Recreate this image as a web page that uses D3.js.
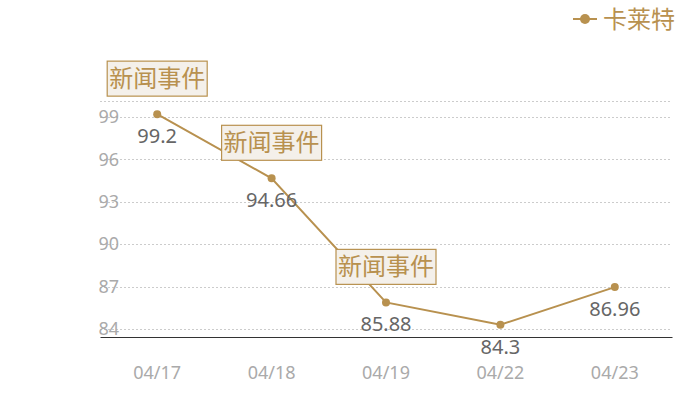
<!DOCTYPE html>
<html>
<head>
<meta charset="utf-8">
<script src="https://cdn.jsdelivr.net/npm/d3@7"></script>
<style>
  body { margin: 0; background: #fff; }
  text { font-family: "Noto Sans CJK SC", "Noto Sans", sans-serif; }
</style>
</head>
<body>
<div id="chart"></div>
<script>
// data
var dates = ["04/17", "04/18", "04/19", "04/22", "04/23"];
var values = [99.2, 94.66, 85.88, 84.3, 86.96];
var yTicks = [84, 87, 90, 93, 96, 99];
var eventDates = ["04/17", "04/18", "04/19"];
var eventLabel = "新闻事件";
var seriesName = "卡莱特";

var W = 700, H = 400;
var gold = "#b8914f";

var svg = d3.select("#chart").append("svg").attr("width", W).attr("height", H);

var x = d3.scaleBand().domain(dates).range([100, 672]);
var y = d3.scaleLinear().domain([83.43, 100.13]).range([337, 101]);

// grid lines
svg.selectAll(".grid")
  .data(yTicks.concat([100.13]))
  .enter().append("line")
  .attr("x1", 100).attr("x2", 672)
  .attr("y1", function(d){ return Math.round(y(d)) + 0.5 })
  .attr("y2", function(d){ return Math.round(y(d)) + 0.5 })
  .attr("stroke", "#ccc")
  .attr("stroke-dasharray", "2,2");

// y axis labels
var yAxis = d3.axisLeft(y).tickValues(yTicks).tickSize(0).tickPadding(0);
var gy = svg.append("g").attr("transform", "translate(119,0)").call(yAxis);
gy.select(".domain").remove();
gy.selectAll("text").attr("fill", "#aaa").style("font-size", "18px")
  .style("font-family", "'Noto Sans', sans-serif");

// x axis
var xAxis = d3.axisBottom(x).tickSize(0).tickPadding(0);
var gx = svg.append("g").attr("transform", "translate(0,337)").call(xAxis);
gx.select(".domain").attr("stroke", "#333");
gx.selectAll("text").attr("fill", "#aaa").attr("dy", "42px").style("font-size", "18px")
  .style("font-family", "'Noto Sans', sans-serif");

var cx = function(d, i){ return x(dates[i]) + x.bandwidth() / 2 };

// line
var line = d3.line().x(cx).y(function(d){ return y(d) });
svg.append("path").datum(values)
  .attr("d", line)
  .attr("fill", "none")
  .attr("stroke", gold)
  .attr("stroke-width", 2);

// points
svg.selectAll(".pt").data(values).enter().append("circle")
  .attr("cx", cx).attr("cy", function(d){ return y(d) })
  .attr("r", 4).attr("fill", gold);

// value labels
svg.selectAll(".val").data(values).enter().append("text")
  .attr("x", cx).attr("y", function(d){ return y(d) + 29 })
  .attr("text-anchor", "middle")
  .attr("fill", "#666")
  .style("font-size", "20px")
  .style("font-family", "'Noto Sans', sans-serif")
  .text(function(d){ return d });

// event markers
var ev = svg.selectAll(".ev").data(eventDates).enter().append("g")
  .attr("transform", function(d){
    var i = dates.indexOf(d);
    return "translate(" + (x(d) + x.bandwidth() / 2) + "," + (y(values[i]) - 18) + ")";
  });
ev.append("rect")
  .attr("x", -50).attr("y", -35).attr("width", 100).attr("height", 35)
  .attr("fill", "#f4f0ea").attr("stroke", gold).attr("stroke-width", 1.2);
ev.append("text")
  .attr("x", 0).attr("y", -9)
  .attr("text-anchor", "middle")
  .attr("fill", gold)
  .style("font-size", "24px")
  .text(eventLabel);

// legend
var lg = svg.append("g").attr("transform", "translate(573,19)");
lg.append("line").attr("x1", 0).attr("x2", 24).attr("y1", 0).attr("y2", 0)
  .attr("stroke", gold).attr("stroke-width", 2);
lg.append("circle").attr("cx", 12).attr("cy", 0).attr("r", 5).attr("fill", gold);
lg.append("text").attr("x", 30).attr("y", 9)
  .attr("fill", gold).style("font-size", "24px").text(seriesName);
</script>
</body>
</html>
